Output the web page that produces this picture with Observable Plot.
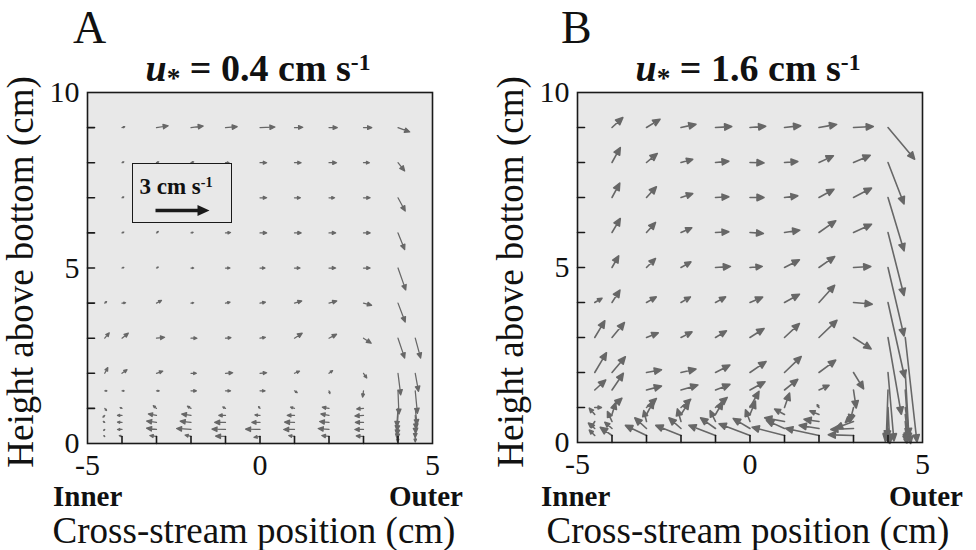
<!DOCTYPE html>
<html><head><meta charset="utf-8">
<script src="https://cdn.jsdelivr.net/npm/d3@7"></script>
<script src="https://cdn.jsdelivr.net/npm/@observablehq/plot@0.6"></script>
<style>
body{margin:0;background:#fff;}
#wrap{position:relative;width:976px;height:550px;overflow:hidden;font-family:"Liberation Serif","Times New Roman",serif;color:#111;}
#wrap svg.plot{position:absolute;top:0;}
.t{position:absolute;white-space:nowrap;line-height:1;}
.sup{font-size:0.62em;position:relative;top:-0.48em;}
.sub{font-size:0.72em;position:relative;top:0.22em;}
</style></head><body><div id="wrap"></div>
<script>
// grid of measurement positions (cm)
const cols = [-4.5, -4, -3, -2, -1, 0, 1, 2, 3, 4, 4.5];
const rows = [9, 8, 7, 6, 5, 4, 3, 2, 1.5, 1, 0.8, 0.6, 0.4, 0.2];
const _ = null;
const xTickVals = [-4, -3, -2, -1, 0, 1, 2, 3, 4];
const yTickVals = [1, 2, 3, 4, 5, 6, 7, 8, 9];
const xLabelTicks = [-5, 0, 5];
const yLabelTicks = [0, 5, 10];
const scaleSpeed = 3; // cm/s reference arrow
const titles = ["0.4", "1.6"];

// Panel A: u* = 0.4 cm/s  (cross-stream u, vertical v, cm/s)
const uA = [
  [_, .15, .65, .68, .65, .83, .46, .46, .46, .65, _],
  [_, .10, .12, .15, .20, .37, .37, .42, .33, .37, _],
  [_, .10, .15, .20, .25, .37, .33, .31, .37, .40, _],
  [_, .10, .10, .12, .28, .37, .37, .37, .37, .37, _],
  [_, .10, .10, .15, .25, .28, .31, .37, .37, .43, _],
  [.10, .20, .28, .15, .25, .30, .40, .43, .45, .40, _],
  [.25, .35, .45, .33, .30, .30, .43, .42, .43, .37, .30],
  [.17, .28, .35, .30, .40, .37, .28, .20, .18, .15, .18],
  [.12, .12, .15, .30, .28, .28, .15, .05, -.05, .05, .12],
  [.10, -.10, -.18, -.20, -.15, -.08, -.22, -.37, -.38, -.07, .10],
  [-.10, -.25, -.45, -.52, -.37, -.28, -.40, -.45, -.48, -.05, .05],
  [-.08, -.25, -.55, -.60, -.60, -.45, -.55, -.52, -.45, -.05, .03],
  [-.06, -.25, -.55, -.80, -.75, -.80, -.60, -.60, -.48, -.05, .00],
  [-.05, -.15, -.37, -.33, -.55, -.33, -.32, -.40, -.40, -.03, .00]
];
const vA = [
  [_, .05, .10, .09, .05, .03, .02, 0, 0, -.24, _],
  [_, .05, .05, .05, 0, 0, 0, 0, 0, -.46, _],
  [_, .05, 0, 0, 0, 0, 0, 0, 0, -.74, _],
  [_, .05, .08, .03, .02, 0, 0, 0, 0, -.93, _],
  [_, .03, .05, 0, 0, 0, 0, 0, 0, -1.22, _],
  [.08, .02, .15, .02, .05, .05, .12, .12, -.12, -1.05, _],
  [.30, .28, .05, 0, .03, .05, .28, .22, -.28, -1.10, -1.10],
  [.32, .20, .12, 0, .03, .03, .12, .15, -.26, -1.20, -1.00],
  [0, 0, 0, 0, 0, 0, -.10, -.15, -.35, -1.30, -1.25],
  [-.12, .05, .15, .12, .08, .10, .07, .07, -.03, -1.00, -.90],
  [-.10, 0, .08, .08, 0, .03, 0, .08, -.03, -.85, -.75],
  [.06, .02, .08, .07, 0, 0, .02, .05, 0, -.70, -.60],
  [-.06, 0, .07, .05, .02, .02, 0, .05, 0, -.50, -.45],
  [.05, .05, .05, .08, .02, -.05, .05, .05, .03, -.30, -.30]
];

// Panel B: u* = 1.6 cm/s
const uB = [
  [_, .60, .75, .83, .90, .87, .90, .98, 1.10, 1.48, _],
  [_, .46, .60, .65, .74, .78, .74, .80, .93, .89, _],
  [_, .43, .55, .65, .74, .78, .74, .83, 1.00, .89, _],
  [_, .46, .50, .60, .74, .74, .85, .93, 1.00, .89, _],
  [_, .37, .50, .55, .83, .68, .83, .87, .96, .89, _],
  [.40, .44, .54, .52, .56, .70, .83, .87, 1.04, .93, _],
  [.56, .69, .65, .61, .61, .78, .83, 1.00, .98, .74, .65],
  [.65, .74, .83, .83, .80, .89, .93, .93, .56, .33, .20],
  [.61, .63, .83, .94, .80, .83, .74, .56, .15, -.10, .20],
  [.37, .55, .55, .54, .65, .50, .28, -.10, -.20, .10, .30],
  [-.30, .20, .40, .45, .40, .30, -.55, -.50, -.45, -.05, .15],
  [-.20, -.25, -.15, -.20, -.30, -.25, -1.10, -.83, -1.00, -.15, .10],
  [-.35, -.40, -.65, -.67, -.83, -.93, -1.00, -1.10, -1.26, .10, .10],
  [-.30, -.65, -1.17, -1.40, -1.48, -1.72, -1.80, -1.85, -1.40, .05, .05]
];
const vB = [
  [_, .55, .46, .18, .05, .07, .10, .17, .05, -1.76, _],
  [_, .83, .50, .18, .07, -.02, .05, .37, .40, -2.30, _],
  [_, .80, .60, .22, .04, 0, .09, .46, .52, -2.96, _],
  [_, .78, .56, .26, .04, -.05, .13, .65, .46, -3.50, _],
  [_, .65, .50, .31, .06, .06, .43, .61, .06, -3.80, _],
  [.24, .69, .31, .31, .31, .30, .46, .96, -.09, -4.17, _],
  [.93, .83, .26, .31, .37, .50, .78, .96, -.63, -4.26, -5.80],
  [1.10, .87, .15, .19, .41, .61, .89, .69, -.91, -3.80, -3.50],
  [.56, .93, .22, .28, .31, .46, .59, .26, -1.00, -2.80, -2.80],
  [0, .52, .50, .46, .56, .90, .80, .15, -.80, -2.00, -2.00],
  [.35, .65, .75, .70, .70, .75, .30, .20, -.45, -1.30, -1.40],
  [-.35, .55, .60, .70, .60, .65, .20, .12, -.37, -1.10, -1.10],
  [.30, .35, .59, .59, .59, .56, .45, .18, -.05, -.80, -.80],
  [.30, .46, .56, .56, .57, .65, .46, .40, .04, -.40, -.40]
];

const BG = "#e8e8e8", INK = "#1a1a1a", ARROW = "#676767";
const FONT = "Liberation Serif, Times New Roman, serif";

function toRecords(U, V) {
  const out = [];
  rows.forEach((y, i) => cols.forEach((x, j) => {
    const u = U[i][j], v = V[i][j];
    if (u == null) return;
    out.push({x, y, u, v, speed: Math.hypot(u, v), angle: Math.atan2(u, v) * 180 / Math.PI});
  }));
  return out;
}

function headShape(maxHead) {
  return {
    draw(ctx, l) {
      const h = Math.min(maxHead, l * 0.5), w = h * 0.45;
      ctx.moveTo(0, 0); ctx.lineTo(0, -l + h * 0.6);
      ctx.moveTo(0, -l); ctx.lineTo(-w, -l + h); ctx.lineTo(w, -l + h); ctx.closePath();
    }
  };
}
const tickShape = {draw(ctx, l) { ctx.moveTo(0, 0); ctx.lineTo(0, -l); }};

function panel(U, V, m) {
  const data = toRecords(U, V);
  return Plot.plot({
    width: 488, height: 550,
    marginLeft: m.left, marginRight: m.right, marginTop: m.top, marginBottom: m.bottom,
    style: {fontFamily: FONT, color: "#111", background: "transparent", overflow: "visible"},
    x: {domain: [-5, 5]},
    y: {domain: [0, 10]},
    length: {type: "linear", domain: [0, scaleSpeed], range: [0, 54]},
    marks: [
      Plot.frame({fill: BG}),
      Plot.vector(data, {x: "x", y: "y", length: "speed", rotate: "angle", anchor: "start",
        shape: headShape(m.head), stroke: ARROW, fill: ARROW, strokeWidth: m.sw, strokeLinejoin: "round"}),
      Plot.vector(xTickVals, {x: d => d, frameAnchor: "bottom", length: 7, rotate: 0, anchor: "start",
        shape: tickShape, stroke: INK, strokeWidth: 1.6}),
      Plot.vector(yTickVals, {y: d => d, frameAnchor: "left", length: 7, rotate: 90, anchor: "start",
        shape: tickShape, stroke: INK, strokeWidth: 1.6}),
      Plot.frame({stroke: INK, strokeWidth: 1.6}),
      Plot.axisY({ticks: yLabelTicks, tickSize: 0, tickPadding: 8, fontSize: 30, fontFamily: FONT,
        tickFormat: d => String(d), label: null}),
      Plot.axisX({ticks: xLabelTicks, tickSize: 0, tickPadding: 10.5, fontSize: 30, fontFamily: FONT,
        tickFormat: d => String(d), label: null})
    ]
  });
}

const wrap = document.getElementById("wrap");
const pA = panel(uA, vA, {left: 87, right: 56, top: 92, bottom: 107, sw: 1.25, head: 5});
const pB = panel(uB, vB, {left: 89, right: 54, top: 92, bottom: 108, sw: 1.6, head: 7});
pA.classList.add("plot"); pB.classList.add("plot");
pA.style.left = "0px"; pB.style.left = "488px";
wrap.append(pA, pB);

function label(html, css) {
  const d = document.createElement("div");
  d.className = "t"; d.innerHTML = html;
  Object.assign(d.style, css);
  wrap.appendChild(d); return d;
}
[{cx: 258, ylab: 20, inner: 53, outer: 463, xl: 254, letter: 73},
 {cx: 748, ylab: 510, inner: 541, outer: 963, xl: 748, letter: 561}].forEach((p, i) => {
  label(i === 0 ? "A" : "B", {left: p.letter + "px", top: "5px", fontSize: "46px"});
  label(`<b><i>u</i><span class="sub">*</span> = ${titles[i]} cm s<span class="sup">-1</span></b>`,
    {left: p.cx + "px", top: "49px", fontSize: "38px", transform: "translateX(-50%)"});
  label("Height above bottom (cm)", {left: p.ylab + "px", top: "272px", fontSize: "37px",
    transform: "translate(-50%,-50%) rotate(-90deg)"});
  label("<b>Inner</b>", {left: p.inner + "px", top: "481.5px", fontSize: "29px"});
  label("<b>Outer</b>", {left: p.outer + "px", top: "481.5px", fontSize: "29px", transform: "translateX(-100%)"});
  label("Cross-stream position (cm)", {left: p.xl + "px", top: "512px", fontSize: "37px", transform: "translateX(-50%)"});
});

// scale legend (panel A), arrow length from the plot's own length scale
const arrowLen = pA.scale("length").apply(scaleSpeed);
const box = document.createElement("div");
Object.assign(box.style, {position: "absolute", left: "132px", top: "163px", width: "100px", height: "60px",
  boxSizing: "border-box", border: "1.5px solid " + INK, background: BG});
box.innerHTML = `<div class="t" style="left:6.5px;top:11px;font-size:23px;font-weight:bold">3 cm s<span class="sup">-1</span></div>
<svg width="97" height="57" style="position:absolute;left:0;top:0;overflow:visible">
<line x1="22.5" y1="46.5" x2="${22.5 + arrowLen - 10}" y2="46.5" stroke="${INK}" stroke-width="3.4"/>
<path d="M${22.5 + arrowLen},46.5 L${22.5 + arrowLen - 12},41 L${22.5 + arrowLen - 12},52 Z" fill="${INK}"/>
</svg>`;
wrap.appendChild(box);
</script></body></html>
